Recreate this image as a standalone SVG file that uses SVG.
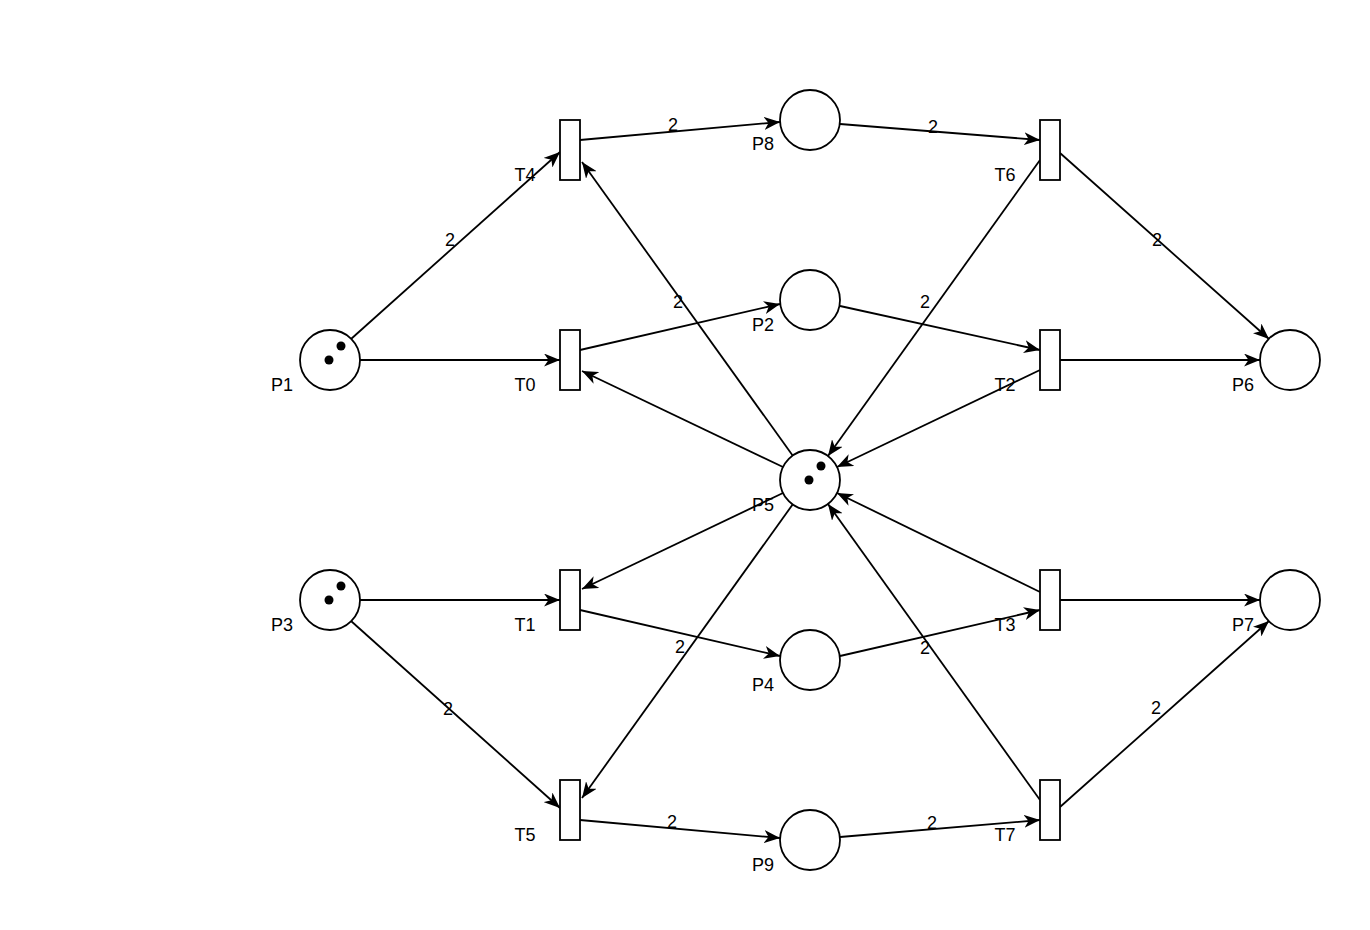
<svg xmlns="http://www.w3.org/2000/svg" width="1370" height="930" viewBox="0 0 1370 930">
<style>
.place{fill:#fff;stroke:#000;stroke-width:1.8}
.trans{fill:#fff;stroke:#000;stroke-width:1.8}
.tok{fill:#000}
.edge{fill:none;stroke:#000;stroke-width:1.8;marker-end:url(#arr)}
.lbl{font-family:"Liberation Sans",Arial,sans-serif;font-size:18px;fill:#000;text-anchor:middle}
</style>
<defs>
<marker id="arr" markerUnits="userSpaceOnUse" viewBox="0 0 16 13" refX="16" refY="6.5" markerWidth="16" markerHeight="13" orient="auto">
<path d="M0,0 L16,6.5 L0,13 L4.5,6.5 Z" fill="#000"/>
</marker>
</defs>
<rect width="1370" height="930" fill="#fff"/>
<g id="connectors">
<line class="edge" x1="351" y1="339" x2="560" y2="152"/>
<line class="edge" x1="360" y1="360" x2="560" y2="360"/>
<line class="edge" x1="580" y1="140" x2="780" y2="122"/>
<line class="edge" x1="840" y1="124" x2="1040" y2="140"/>
<line class="edge" x1="1060" y1="153" x2="1269" y2="339"/>
<line class="edge" x1="1040" y1="160" x2="828" y2="456"/>
<line class="edge" x1="793" y1="456" x2="582" y2="162"/>
<line class="edge" x1="580" y1="350" x2="780" y2="304"/>
<line class="edge" x1="840" y1="306" x2="1040" y2="350"/>
<line class="edge" x1="1060" y1="360" x2="1260" y2="360"/>
<line class="edge" x1="783" y1="467" x2="582" y2="371"/>
<line class="edge" x1="1040" y1="370" x2="837" y2="467"/>
<line class="edge" x1="783" y1="493" x2="582" y2="589"/>
<line class="edge" x1="1040" y1="592" x2="837" y2="493"/>
<line class="edge" x1="360" y1="600" x2="560" y2="600"/>
<line class="edge" x1="351" y1="621" x2="560" y2="808"/>
<line class="edge" x1="580" y1="610" x2="780" y2="656"/>
<line class="edge" x1="840" y1="656" x2="1040" y2="610"/>
<line class="edge" x1="1060" y1="600" x2="1260" y2="600"/>
<line class="edge" x1="793" y1="504" x2="582" y2="798"/>
<line class="edge" x1="1040" y1="800" x2="828" y2="504"/>
<line class="edge" x1="580" y1="820" x2="780" y2="838"/>
<line class="edge" x1="840" y1="837" x2="1040" y2="820"/>
<line class="edge" x1="1060" y1="807" x2="1269" y2="621"/>
<text class="lbl" x="450" y="246">2</text>
<text class="lbl" x="673" y="131">2</text>
<text class="lbl" x="933" y="133">2</text>
<text class="lbl" x="1157" y="246">2</text>
<text class="lbl" x="925" y="308">2</text>
<text class="lbl" x="678" y="308">2</text>
<text class="lbl" x="448" y="715">2</text>
<text class="lbl" x="680" y="653">2</text>
<text class="lbl" x="925" y="654">2</text>
<text class="lbl" x="672" y="828">2</text>
<text class="lbl" x="932" y="829">2</text>
<text class="lbl" x="1156" y="714">2</text>
</g>
<g id="P1"><circle class="place" cx="330" cy="360" r="30"/><circle class="tok" cx="341" cy="346" r="4.5"/><circle class="tok" cx="329" cy="360" r="4.5"/><text class="lbl" x="282" y="391">P1</text></g>
<g id="P3"><circle class="place" cx="330" cy="600" r="30"/><circle class="tok" cx="341" cy="586" r="4.5"/><circle class="tok" cx="329" cy="600" r="4.5"/><text class="lbl" x="282" y="631">P3</text></g>
<g id="P8"><circle class="place" cx="810" cy="120" r="30"/><text class="lbl" x="763" y="150">P8</text></g>
<g id="P2"><circle class="place" cx="810" cy="300" r="30"/><text class="lbl" x="763" y="331">P2</text></g>
<g id="P5"><circle class="place" cx="810" cy="480" r="30"/><circle class="tok" cx="821" cy="466" r="4.5"/><circle class="tok" cx="809" cy="480" r="4.5"/><text class="lbl" x="763" y="511">P5</text></g>
<g id="P4"><circle class="place" cx="810" cy="660" r="30"/><text class="lbl" x="763" y="691">P4</text></g>
<g id="P9"><circle class="place" cx="810" cy="840" r="30"/><text class="lbl" x="763" y="871">P9</text></g>
<g id="P6"><circle class="place" cx="1290" cy="360" r="30"/><text class="lbl" x="1243" y="391">P6</text></g>
<g id="P7"><circle class="place" cx="1290" cy="600" r="30"/><text class="lbl" x="1243" y="631">P7</text></g>
<g id="T4"><rect class="trans" x="560" y="120" width="20" height="60"/><text class="lbl" x="525" y="181">T4</text></g>
<g id="T0"><rect class="trans" x="560" y="330" width="20" height="60"/><text class="lbl" x="525" y="391">T0</text></g>
<g id="T1"><rect class="trans" x="560" y="570" width="20" height="60"/><text class="lbl" x="525" y="631">T1</text></g>
<g id="T5"><rect class="trans" x="560" y="780" width="20" height="60"/><text class="lbl" x="525" y="841">T5</text></g>
<g id="T6"><rect class="trans" x="1040" y="120" width="20" height="60"/><text class="lbl" x="1005" y="181">T6</text></g>
<g id="T2"><rect class="trans" x="1040" y="330" width="20" height="60"/><text class="lbl" x="1005" y="391">T2</text></g>
<g id="T3"><rect class="trans" x="1040" y="570" width="20" height="60"/><text class="lbl" x="1005" y="631">T3</text></g>
<g id="T7"><rect class="trans" x="1040" y="780" width="20" height="60"/><text class="lbl" x="1005" y="841">T7</text></g>
</svg>
